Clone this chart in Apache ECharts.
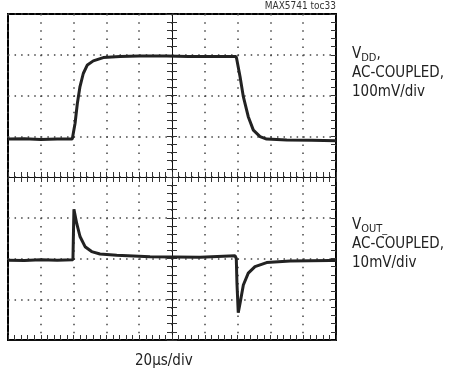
<!DOCTYPE html>
<html>
<head>
<meta charset="utf-8">
<script src="https://cdn.jsdelivr.net/npm/echarts@6/dist/echarts.min.js"></script>
<style>
html, body { margin: 0; padding: 0; background: #fff; }
#scope { width: 449px; height: 381px; }
</style>
</head>
<body>
<div id="scope"></div>
<script>
// time in us (20us/div, 10 div), level in divisions (8 div, 0 = bottom)
var vddTime = [0, 10, 20, 30, 39.2, 39.6, 40.9, 42.3, 43.9, 45.9, 48.4, 52.0, 58.1, 68.3, 80, 96.8, 110, 125, 138.9, 139.4, 141.5, 143.5, 146.5, 149.6, 153.7, 157.7, 170, 185, 200];
var vddLevel = [4.93, 4.94, 4.92, 4.93, 4.93, 4.97, 5.32, 5.81, 6.22, 6.54, 6.75, 6.85, 6.93, 6.96, 6.97, 6.97, 6.96, 6.96, 6.96, 6.91, 6.46, 5.97, 5.48, 5.15, 4.99, 4.93, 4.91, 4.90, 4.89];

var voutTime = [0, 10, 20, 30, 39.6, 39.9, 40.2, 41.9, 43.9, 47.0, 51.0, 56.1, 66.3, 86.6, 117.1, 138.4, 139.2, 139.6, 140.4, 141.5, 143.5, 146.5, 150.6, 157.7, 172, 196.3, 200];
var voutLevel = [1.96, 1.95, 1.97, 1.96, 1.97, 2.6, 3.21, 2.86, 2.54, 2.29, 2.17, 2.11, 2.08, 2.04, 2.03, 2.07, 2.0, 1.4, 0.67, 0.9, 1.35, 1.64, 1.80, 1.90, 1.94, 1.95, 1.95];

var noteText = "MAX5741 toc33";
var timeBase = "20µs/div";

function zip(xs, ys) {
  var out = [];
  for (var i = 0; i < xs.length; i++) out.push([xs[i], ys[i]]);
  return out;
}

var font = "'Liberation Sans Narrow', 'DejaVu Sans Condensed', sans-serif";
var chart = echarts.init(document.getElementById("scope"));

function ticks(inside, len) {
  return {
    axisTick: { show: true, inside: inside, length: len, lineStyle: { color: "#333", width: 1 } },
    minorTick: { show: true, splitNumber: 5, length: len, lineStyle: { color: "#333", width: 1 } }
  };
}
function xAx(opts) {
  var a = { type: "value", min: 0, max: 200, interval: 20, position: "bottom",
    axisLine: { show: true, onZero: false, lineStyle: { color: "#111", width: 1 } },
    axisLabel: { show: false }, splitLine: { show: false } };
  return Object.assign(a, ticks(true, 5), opts);
}
function yAx(opts) {
  var a = { type: "value", min: 0, max: 8, interval: 1, position: "left",
    axisLine: { show: true, onZero: false, lineStyle: { color: "#111", width: 1 } },
    axisLabel: { show: false }, splitLine: { show: false } };
  return Object.assign(a, ticks(true, 5), opts);
}

var option = {
  animation: false,
  grid: { left: 8, top: 14, width: 328, height: 326, show: true, borderColor: "#000", borderWidth: 2 },
  xAxis: [
    xAx({ splitLine: { show: true, lineStyle: { color: "#444", width: 1.5, type: [1.5, 6.65] } } }),
    xAx({ offset: -163 }),
    xAx(Object.assign({ offset: -163 }, ticks(false, 5)))
  ],
  yAxis: [
    yAx({ position: "right", splitLine: { show: true, lineStyle: { color: "#444", width: 1.5, type: [1.5, 5.06] } } }),
    yAx({ offset: -164 }),
    yAx(Object.assign({ offset: -164 }, ticks(false, 5)))
  ],
  series: [
    {
      name: "VDD", type: "line", xAxisIndex: 0, yAxisIndex: 0, showSymbol: false,
      lineStyle: { color: "#222", width: 3 }, data: zip(vddTime, vddLevel)
    },
    {
      name: "VOUT", type: "line", xAxisIndex: 0, yAxisIndex: 0, showSymbol: false,
      lineStyle: { color: "#222", width: 3 }, data: zip(voutTime, voutLevel)
    }
  ],
  graphic: [
    {
      type: "text", right: 449 - 336, top: 1,
      style: { text: noteText, fontFamily: font, fontSize: 10, fill: "#333" }
    },
    {
      type: "text", left: 352, top: 47,
      style: {
        text: "{v|V}{s|DD}{v|,}\n{v|AC-COUPLED,}\n{v|100mV/div}",
        fontFamily: font, fill: "#222",
        rich: {
          v: { fontFamily: font, fontSize: 15, lineHeight: 19, fill: "#222", verticalAlign: "middle" },
          s: { fontFamily: font, fontSize: 11, lineHeight: 11, fill: "#222", verticalAlign: "bottom" }
        }
      }
    },
    {
      type: "text", left: 352, top: 218,
      style: {
        text: "{v|V}{s|OUT_}\n{v|AC-COUPLED,}\n{v|10mV/div}",
        fontFamily: font, fill: "#222",
        rich: {
          v: { fontFamily: font, fontSize: 15, lineHeight: 19, fill: "#222", verticalAlign: "middle" },
          s: { fontFamily: font, fontSize: 11, lineHeight: 11, fill: "#222", verticalAlign: "bottom" }
        }
      }
    },
    {
      type: "text", left: 135, top: 354,
      style: { text: timeBase, fontFamily: font, fontSize: 15, fill: "#222" }
    }
  ]
};
chart.setOption(option);
</script>
</body>
</html>
